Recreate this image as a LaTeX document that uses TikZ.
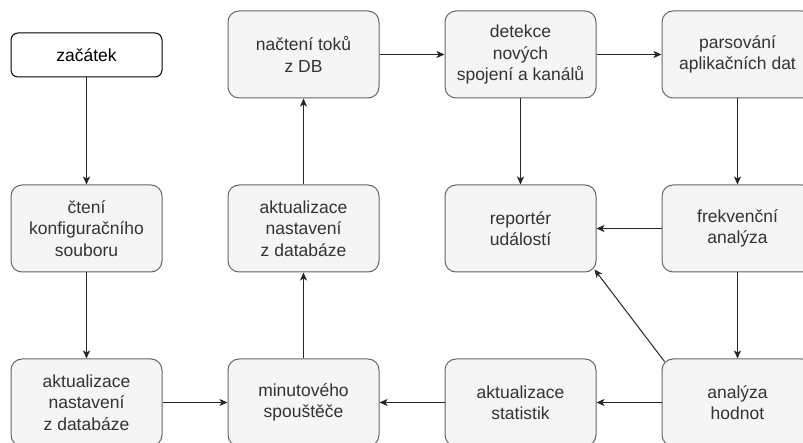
\documentclass[tikz,border=0pt]{standalone}
\usepackage{fontspec}
\setmainfont{Liberation Sans}
\usetikzlibrary{arrows.meta}
\definecolor{boxfill}{HTML}{F5F5F5}
\definecolor{boxline}{HTML}{666666}
\definecolor{txt}{HTML}{333333}
\begin{document}
\begin{tikzpicture}[x=1pt,y=-1pt,
  proc/.style={draw=boxline, fill=boxfill, line width=1pt, rounded corners=11pt,
    minimum width=151pt, minimum height=87pt, inner sep=0pt, align=center,
    text=txt, font=\fontsize{17.5}{21.5}\selectfont},
  startbox/.style={draw=black, fill=white, line width=1pt, rounded corners=7pt,
    minimum width=151pt, minimum height=44pt, inner sep=0pt, align=center,
    text=black, font=\fontsize{17.5}{21.5}\selectfont},
  conn/.style={draw=black!85, line width=1pt, -{Stealth[length=8pt,width=7pt,inset=2pt]}}
]
\useasboundingbox (0,0) rectangle (803,443);
\clip (0,0) rectangle (803,443);
% row 1
\node[startbox] (start) at (86.5,55) {začátek};
\node[proc] (nacteni) at (303.5,54.5) {načtení toků\\z DB};
\node[proc] (detekce) at (520.5,54.5) {detekce\\nových\\spojení a kanálů};
\node[proc] (parsovani) at (737.5,54.5) {parsování\\aplikačních dat};
% row 2
\node[proc] (cteni) at (86.5,228.5) {čtení\\konfiguračního\\souboru};
\node[proc] (aktnast2) at (303.5,228.5) {aktualizace\\nastavení\\z databáze};
\node[proc] (reporter) at (520.5,228.5) {reportér\\událostí};
\node[proc] (frekv) at (737.5,228.5) {frekvenční\\analýza};
% row 3
\node[proc] (aktnast1) at (86.5,402.5) {aktualizace\\nastavení\\z databáze};
\node[proc] (minut) at (303.5,402.5) {minutového\\spouštěče};
\node[proc] (stat) at (520.5,402.5) {aktualizace\\statistik};
\node[proc] (analyza) at (737.5,402.5) {analýza\\hodnot};
% connectors
\draw[conn] (start.south) -- (cteni.north);
\draw[conn] (cteni.south) -- (aktnast1.north);
\draw[conn] (aktnast1.east) -- (minut.west);
\draw[conn] (minut.north) -- (aktnast2.south);
\draw[conn] (aktnast2.north) -- (nacteni.south);
\draw[conn] (nacteni.east) -- (detekce.west);
\draw[conn] (detekce.east) -- (parsovani.west);
\draw[conn] (detekce.south) -- (reporter.north);
\draw[conn] (parsovani.south) -- (frekv.north);
\draw[conn] (frekv.west) -- (reporter.east);
\draw[conn] (frekv.south) -- (analyza.north);
\draw[conn] (analyza.west) -- (stat.east);
\draw[conn] (stat.west) -- (minut.east);
\coordinate (a1) at ([xshift=3pt,yshift=-3pt]analyza.north west);
\coordinate (r1) at ([xshift=-2pt,yshift=3pt]reporter.south east);
\draw[conn] (a1) -- (r1);
\end{tikzpicture}
\end{document}
